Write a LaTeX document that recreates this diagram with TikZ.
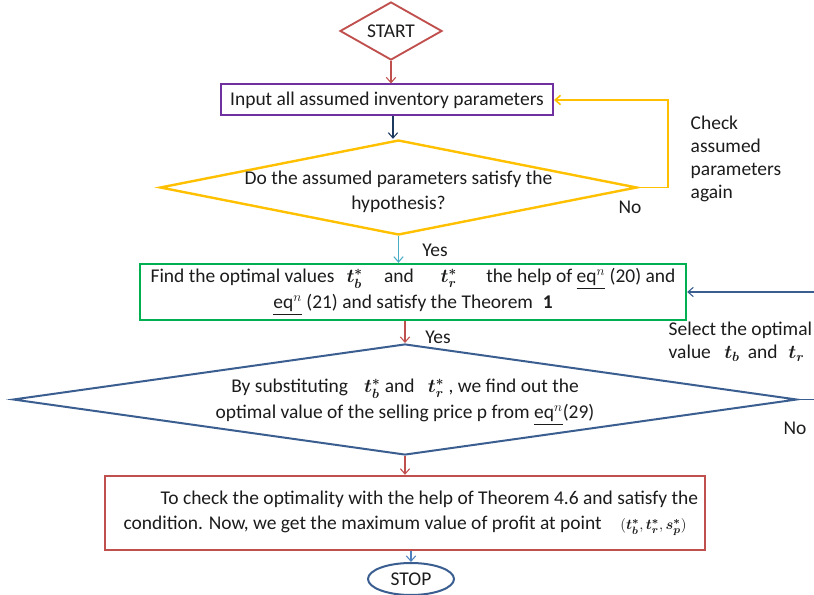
\documentclass[tikz,border=0pt]{standalone}
\usepackage{fontspec}
\setmainfont{Carlito}
\usepackage{amsmath}
\usepackage{bm}
\usetikzlibrary{shapes.geometric,arrows.meta}
\definecolor{flowred}{HTML}{C0504D}
\definecolor{flowpurple}{HTML}{7030A0}
\definecolor{flowyellow}{HTML}{FFC000}
\definecolor{flowgreen}{HTML}{00B050}
\definecolor{flowblue}{HTML}{3B5E91}
\definecolor{flowlight}{HTML}{4BACC6}
\definecolor{flowsky}{HTML}{4F81BD}
\definecolor{flowdark}{HTML}{1F3A5F}
\definecolor{flowtext}{HTML}{1C1C1C}

\begin{document}
\begin{tikzpicture}[
    x=0.75pt, y=-0.75pt,
    every node/.style={font=\fontsize{14.6}{19}\selectfont, text=flowtext},
    arr/.style={-{Straight Barb[length=4pt,width=7pt]}, line width=0.8pt},
    decision/.style={diamond, draw, inner sep=0pt, line width=1.8pt},
    process/.style={rectangle, draw, line width=1.8pt, align=center, inner sep=0pt},
    note/.style={align=left, anchor=west, font=\fontsize{14.6}{17.4}\selectfont}
]
\useasboundingbox (0,0) rectangle (814,595);

\node[decision, draw=flowred, line width=1.4pt, minimum width=76.5pt, minimum height=43.5pt,
      label={center:START}] (start) at (391,31) {};
\node[process, draw=flowpurple, line width=1.5pt, minimum width=249pt, minimum height=23.25pt]
      (input) at (387,100) {Input all assumed inventory parameters};
\node[decision, draw=flowyellow, minimum width=357.75pt, minimum height=71.25pt,
      label={[align=center, yshift=-3pt]center:Do the assumed parameters satisfy the\\hypothesis?}]
      (check) at (398.5,187.5) {};
\node[process, draw=flowgreen, minimum width=409.5pt, minimum height=42pt] (find) at (413,292)
      {Find the optimal values\hspace{9pt}$\bm{t_b^*}$\hspace{16pt}and\hspace{20pt}$\bm{t_r^*}$\hspace{22pt}the help of \underline{eq$^{n}$} (20) and\\
       \underline{eq$^{n}$} (21) and satisfy the Theorem\enspace $\mathbf{1}$};
\node[decision, draw=flowblue, line width=1.5pt, minimum width=588pt, minimum height=83.25pt,
      label={[align=center, yshift=-2pt]center:By substituting\hspace{12pt}$\bm{t_b^*}$ and\hspace{10pt}$\bm{t_r^*}$ , we find out the\\
             optimal value of the selling price p from \underline{eq$^{n}$}(29)}]
      (subst) at (405,399.5) {};
\node[process, draw=flowred, minimum width=450pt, minimum height=55.5pt] (profit) at (405,513)
      {\hspace*{2.5em}To check the optimality with the help of Theorem 4.6 and satisfy the\\
       condition. Now, we get the maximum value of profit at point\hspace{14pt}{\fontsize{11}{13}\selectfont$(\bm{t_b^*}, \bm{t_r^*}, \bm{s_p^*})$}};
\node[ellipse, draw=flowblue, line width=1.5pt, minimum width=64.5pt, minimum height=24pt, inner sep=0pt]
      (stop) at (411,579) {STOP};

% labels
\node (no1) at (630,207) {No};
\node[note] (again) at (686,159) {Check\\assumed\\parameters\\again};
\node (yes1) at (435,250) {Yes};
\node (yes2) at (438,337) {Yes};
\node[note] (select) at (664,342) {Select the optimal\\value\hspace{10pt}$\bm{t_b}$\hspace{6pt}and\hspace{8pt}$\bm{t_r}$};
\node (no2) at (795,428) {No};

% connectors
\draw[arr, flowred] (start.south) -- (start.south |- input.north);
\draw[arr, flowdark] (input.south -| 393,0) -- (check.north -| 393,0);
\draw[flowyellow, line width=1.2pt, -{Straight Barb[length=4pt,width=7pt]}]
      (check.east) -- ++(30,0) |- (input.east);
\draw[arr, flowlight] (check.south) -- (check.south |- find.north);
\draw[arr, flowred] (subst.north |- find.south) -- (subst.north);
\draw[arr, flowblue] (subst.east) -- ++(25,0) |- (find.east);
\draw[arr, flowred] (subst.south) -- (subst.south |- profit.north);
\draw[arr, flowsky] (stop.north |- profit.south) -- (stop.north);
\end{tikzpicture}
\end{document}
